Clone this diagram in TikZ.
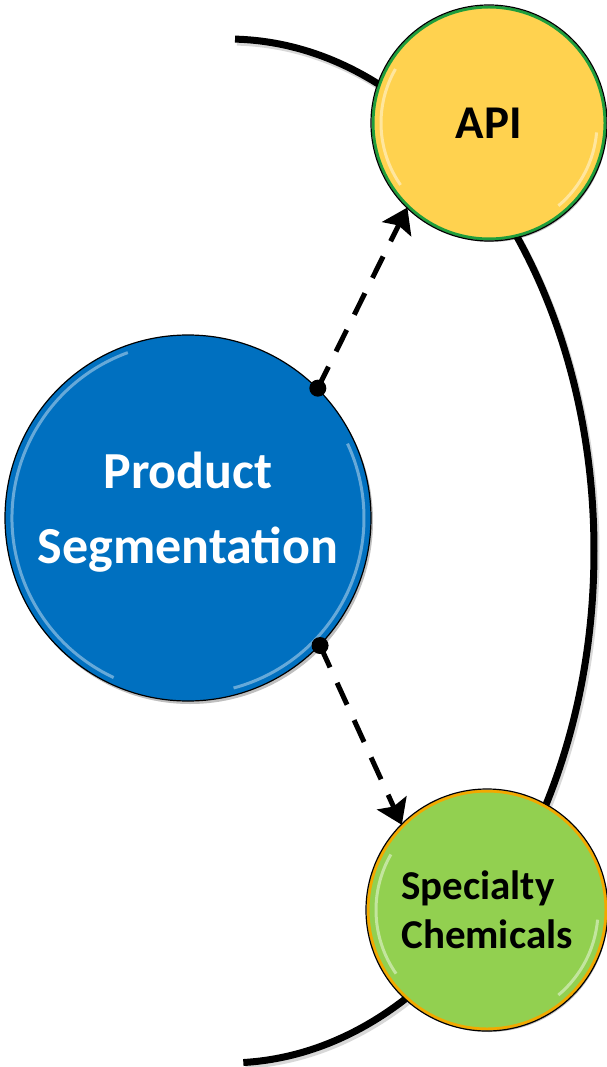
\documentclass[tikz,border=0pt]{standalone}
\usepackage{fontspec}
\setmainfont{Carlito}
\usetikzlibrary{arrows.meta,shadows}
\definecolor{segblue}{HTML}{0070C0}
\definecolor{apiyellow}{HTML}{FFD24F}
\definecolor{chemgreen}{HTML}{92D050}
\definecolor{ringgreen}{HTML}{1F9E3C}
\definecolor{ringgold}{HTML}{F2A900}
\begin{document}
\begin{tikzpicture}[x=1pt,y=1pt,
  bubble/.style={circle, inner sep=0pt, align=center, font=\bfseries},
  softshadow/.style={drop shadow={shadow xshift=2pt, shadow yshift=-3pt, opacity=0.25, fill=black}},
  gloss/.style={white, opacity=0.45, line width=3pt},
  rim/.style={black, line width=1.2pt},
  dotnode/.style={circle, fill=black, minimum size=17pt, inner sep=0pt},
  link/.style={line width=5pt, dash pattern=on 24pt off 17pt,
    -{Stealth[length=24pt, width=32pt, inset=4pt]}}
]
\useasboundingbox (0,0) rectangle (607,-1067);

% the large sweeping curve behind the outer bubbles
\coordinate (ellC) at (228,-551);
\draw[black!30, line width=7pt, opacity=0.5]
  ([xshift=2pt,yshift=-3pt]ellC) ++(88.9:366 and 512)
  arc[start angle=88.9, end angle=-87.6, x radius=366, y radius=512];
\draw[line width=7pt]
  (ellC) ++(88.9:366 and 512)
  arc[start angle=88.9, end angle=-87.6, x radius=366, y radius=512];

% API bubble
\node[bubble, softshadow, fill=apiyellow, draw=ringgreen, line width=3pt,
      minimum size=232pt, font=\bfseries\fontsize{47}{52}\selectfont] (api) at (489,-123) {API};
\draw[rim] (api.center) circle (118);
\draw[gloss] (api.center) ++(150:108) arc[start angle=150, end angle=215, radius=108];
\draw[gloss] (api.center) ++(-5:108) arc[start angle=-5, end angle=-50, radius=108];

% Specialty Chemicals bubble
\node[bubble, softshadow, fill=chemgreen, draw=ringgold, line width=3pt, align=left,
      minimum size=238pt, font=\bfseries\fontsize{41}{49}\selectfont] (chem) at (487,-910) {Specialty\\Chemicals};
\draw[rim] (chem.center) circle (121);
\draw[gloss] (chem.center) ++(150:111) arc[start angle=150, end angle=215, radius=111];
\draw[gloss] (chem.center) ++(-5:111) arc[start angle=-5, end angle=-50, radius=111];

% central bubble
\node[bubble, softshadow, fill=segblue, draw=black, line width=1.2pt, text=white,
      minimum size=366pt, text depth=20pt,
      font=\bfseries\fontsize{52}{75}\selectfont] (seg) at (188,-518) {Product\\Segmentation};
\draw[gloss, opacity=0.4] (seg.center) ++(110:176) arc[start angle=110, end angle=245, radius=176];
\draw[gloss, opacity=0.4] (seg.center) ++(25:176) arc[start angle=25, end angle=-75, radius=176];

% connectors
\node[dotnode] (d1) at (seg.45) {};
\node[dotnode] (d2) at (seg.-44) {};
\draw[link] (d1.center) -- (api.226);
\draw[link] (d2.center) -- (chem.135);
\end{tikzpicture}
\end{document}
